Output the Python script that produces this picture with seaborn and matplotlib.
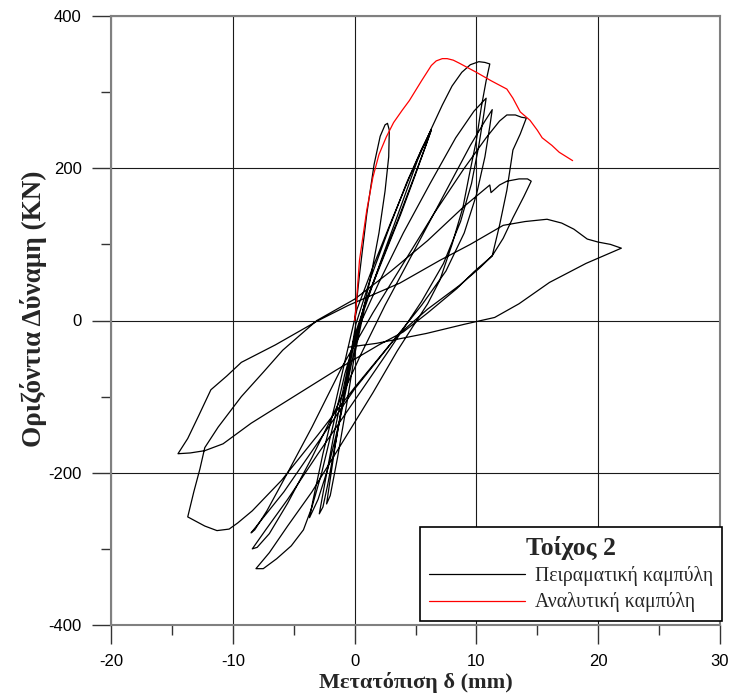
import numpy as np
import pandas as pd
import matplotlib
matplotlib.use("Agg")
import matplotlib.pyplot as plt
import seaborn as sns
from matplotlib.ticker import MultipleLocator
from matplotlib.lines import Line2D

# ---- experimental hysteresis (displacement mm, force kN) ----
exp_disp = [0, 0.4, 1.0, 1.6, 2.1, 2.5, 2.7, 2.85, 2.8, 2.5, 2.0, 1.3, 0.5, -0.3, -1.2, -2.2, -3.0, -3.7,
            -3.4, -2.6, -1.6, -0.6, 0.2, 1.5, 3.0, 4.5, 5.6, 6.3,
            5.9, 5.0, 3.8, 2.3, 1.0, 0.0, -0.8, -1.7, -2.4, -2.9,
            -2.6, -2.2, -1.5, -0.7, 0.1, 1.3, 2.8, 4.3, 5.5, 6.3,
            5.8, 4.8, 3.5, 2.0, 0.8, -0.1, -0.9, -1.6, -2.1, -2.3,
            -2.0, -1.4, -0.7, 0.0, 0.8, 2.2, 3.8, 5.2, 6.3,
            7.2, 8.0, 8.8, 9.5, 10.2, 10.7, 11.1,
            10.8, 10.4, 10.0, 9.4, 8.9, 8.0, 7.0, 6.0, 5.1, 3.5, 1.5, -1.0, -3.5, -5.5, -7.0, -8.1,
            -7.5, -6.4, -5.2, -4.2, -3.5, -2.7, -1.8, -0.8, 0.3, 2.0, 4.0, 6.2, 8.3, 9.8, 10.8,
            10.6, 10.2, 9.6, 8.7, 7.3, 5.5, 3.0, 0.0, -3.0, -5.5, -7.3, -8.4,
            -8.0, -7.0, -5.5, -3.5, -1.5, 0.5, 2.5, 5.0, 7.5, 9.5, 10.7, 11.3,
            11.1, 10.7, 10.0, 9.0, 7.5, 5.5, 3.0, 0.0, -3.0, -5.8, -7.8, -8.5,
            -8.2, -7.2, -5.5, -3.5, -1.0, 1.5, 4.0, 6.5, 9.0, 10.8, 11.9, 12.5, 13.2, 13.7, 14.1,
            13.6, 13.0, 12.5, 11.9, 11.3, 10.2, 8.6, 6.0, 3.5, 0.0, -3.0, -6.0, -8.4, -9.6, -10.3, -11.3, -12.3, -13.7,
            -13.2, -12.7, -12.3, -11.2, -9.3, -7.5, -5.9, -3.1, 0.0, 3.0, 6.0, 9.0, 11.1, 11.2, 11.9, 12.5, 13.5, 14.2, 14.5,
            13.9, 13.0, 12.2, 11.3, 9.8, 8.4, 6.0, 4.0, 2.0, -1.5, -5.0, -8.5, -10.8, -12.3, -13.5, -14.5,
            -13.7, -12.8, -11.8, -10.5, -9.3, -6.5, -3.1, -0.5, 3.7, 7.0, 9.5, 12.2, 14.0, 15.8, 17.0, 18.0, 19.1, 20.0, 21.0, 21.9,
            19.0, 16.0, 13.5, 11.5, 9.0, 5.9, 1.8, -0.5]
exp_force = [0, 60, 140, 205, 242, 257, 259, 250, 215, 170, 115, 55, 0, -60, -130, -195, -235, -259,
             -235, -175, -110, -40, 15, 70, 130, 188, 228, 251,
             232, 192, 140, 80, 28, -20, -80, -150, -210, -254,
             -245, -215, -155, -80, -5, 55, 120, 182, 225, 250,
             228, 185, 130, 70, 20, -35, -100, -165, -220, -241,
             -230, -180, -115, -45, 15, 80, 150, 212, 252,
             283, 308, 326, 336, 340, 339, 337,
             315, 280, 237, 190, 149, 100, 53, 22, 0, -40, -95, -160, -225, -270, -305, -326,
             -326, -313, -296, -275, -245, -200, -140, -70, -10, 50, 115, 180, 240, 275, 292,
             270, 230, 180, 130, 75, 25, -35, -105, -175, -235, -275, -300,
             -298, -280, -240, -180, -115, -45, 20, 95, 170, 230, 262, 277,
             255, 215, 165, 115, 65, 20, -30, -90, -160, -225, -265, -279,
             -275, -250, -200, -140, -60, 10, 75, 140, 200, 240, 262, 270, 270, 267, 266,
             245, 224, 171, 125, 85, 68, 46, 15, -20, -88, -150, -210, -250, -266, -274, -276, -270, -258,
             -225, -195, -167, -140, -100, -68, -39, 0, 28, 65, 105, 150, 178, 168, 178, 183, 186, 186, 183,
             163, 135, 108, 85, 64, 42, 10, -15, -32, -65, -100, -135, -162, -171, -174, -175,
             -155, -125, -91, -73, -55, -32, -1, 20, 49, 79, 100, 125, 130, 133, 128, 120, 107, 103, 100, 95,
             75, 50, 22, 4, -5, -17, -30, -35]

# ---- analytical curve ----
ana_disp = [0, 0.1, 0.4, 1.0, 1.5, 2.0, 2.6, 3.2, 3.9, 4.5, 5.5, 6.3, 6.7, 7.2, 7.6, 8.1, 8.6, 9.3,
            10.0, 11.2, 12.5, 13.0, 13.6, 14.4, 15.0, 15.4, 16.2, 16.8, 17.9]
ana_force = [0, 13, 79, 145, 188, 218, 241, 260, 276, 289, 315, 335, 341, 344, 344, 342, 338, 332,
             326, 315, 304, 292, 274, 263, 250, 240, 230, 221, 210]

x_ticks = [-20, -10, 0, 10, 20, 30]
y_ticks = [-400, -200, 0, 200, 400]
legend_title = "Τοίχος 2"
series_names = ["Πειραματική καμπύλη", "Αναλυτική καμπύλη"]
x_label = "Μετατόπιση δ (mm)"
y_label = "Οριζόντια Δύναμη (KN)"

sns.set_style("white")
plt.rcParams['font.family'] = ['Liberation Sans', 'DejaVu Sans']
plt.rcParams['axes.unicode_minus'] = False

df_exp = pd.DataFrame({"d": exp_disp, "F": exp_force})
df_ana = pd.DataFrame({"d": ana_disp, "F": ana_force})

fig = plt.figure(figsize=(7.30, 6.98), dpi=100)
ax = fig.add_axes([111/730, 1-625/698, (720-111)/730, (625-16)/698])

ax.set_xlim(-20, 30)
ax.set_ylim(-400, 400)
ax.set_xticks(x_ticks)
ax.set_yticks(y_ticks)
ax.xaxis.set_minor_locator(MultipleLocator(5))
ax.yaxis.set_minor_locator(MultipleLocator(100))
ax.grid(True, which='major', color='#1a1a1a', linewidth=0.8)
ax.set_axisbelow(True)

sns.lineplot(data=df_exp, x="d", y="F", sort=False, estimator=None, ax=ax,
             color='black', linewidth=0.9, zorder=3)
sns.lineplot(data=df_ana, x="d", y="F", sort=False, estimator=None, ax=ax,
             color='#ff0000', linewidth=0.9, zorder=4)

for s in ax.spines.values():
    s.set_color('#808080')
    s.set_linewidth(1.5)

ax.tick_params(axis='both', which='major', direction='out', length=14, width=1,
               color='#333333', labelsize=12, labelcolor='black', pad=7, bottom=True, left=True)
ax.tick_params(axis='both', which='minor', direction='out', length=7, width=1,
               color='#333333', bottom=True, left=True)

ax.set_xlabel(x_label, family='Liberation Serif', fontweight='bold', fontsize=16)
ax.xaxis.set_label_coords(0.5, -0.077)
ax.set_ylabel(y_label, family='Liberation Serif', fontweight='bold', fontsize=19.5)
ax.yaxis.set_label_coords(-0.105, 0.52)

handles = [Line2D([], [], color='black', linewidth=0.9),
           Line2D([], [], color='#ff0000', linewidth=0.9)]
leg = ax.legend(handles, series_names, title=legend_title, loc='lower right',
                bbox_to_anchor=(1.004, 0.006), frameon=True, fancybox=False,
                edgecolor='black', framealpha=1, handlelength=4.9, handletextpad=0.5,
                borderpad=0.45, labelspacing=0.32, borderaxespad=0,
                prop={'family': 'Liberation Serif', 'size': 14.2},
                title_fontproperties={'family': 'Liberation Serif', 'weight': 'bold', 'size': 18.5})
leg.get_frame().set_linewidth(1.2)
leg.set_zorder(10)

fig.savefig("out.png", dpi=100)
